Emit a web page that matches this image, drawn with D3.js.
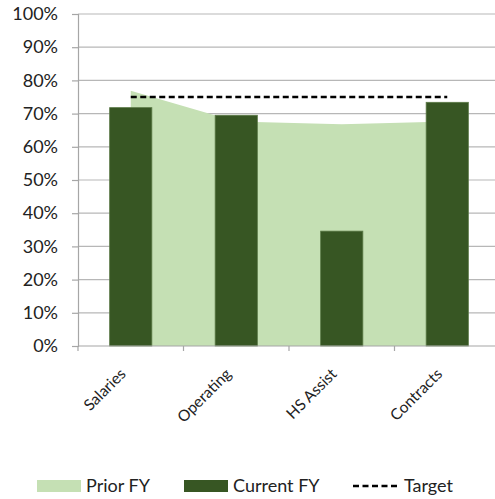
<!DOCTYPE html>
<html>
<head>
<meta charset="utf-8">
<script src="https://cdn.jsdelivr.net/npm/d3@7"></script>
<style>
  body { margin: 0; background: #fff; }
  svg { display: block; font-family: Lato, "Open Sans", sans-serif; }
</style>
</head>
<body>
<svg id="chart" width="495" height="499"></svg>
<script>
// chart data
const categories = ["Salaries", "Operating", "HS Assist", "Contracts"];
const priorFY = [76.9, 67.6, 66.8, 67.6];
const currentFY = [71.8, 69.5, 34.6, 73.4];
const target = [75, 75, 75, 75];
const yTicks = [0, 10, 20, 30, 40, 50, 60, 70, 80, 90, 100];

const lightGreen = "#c5e0b4";
const darkGreen = "#375623";

const svg = d3.select("#chart");

const plotLeft = 78, plotRight = 500, plotTop = 14, plotBottom = 346;

const x = d3.scaleBand()
    .domain(categories)
    .range([plotLeft, plotRight])
    .padding(0);

const y = d3.scaleLinear()
    .domain([0, 100])
    .range([plotBottom, plotTop]);

const center = d => x(d) + x.bandwidth() / 2;

// gridlines
svg.append("g")
    .selectAll("line")
    .data(yTicks.slice(1))
    .join("line")
    .attr("x1", plotLeft)
    .attr("x2", plotRight)
    .attr("y1", d => y(d))
    .attr("y2", d => y(d))
    .attr("stroke", "#b7b7b7")
    .attr("stroke-width", 1.2);

// prior FY area
const area = d3.area()
    .x((d, i) => center(categories[i]))
    .y0(y(0))
    .y1(d => y(d));

svg.append("path")
    .datum(priorFY)
    .attr("fill", lightGreen)
    .attr("d", area);

// current FY bars
const barW = x.bandwidth() * 0.4;
svg.append("g")
    .selectAll("rect")
    .data(currentFY)
    .join("rect")
    .attr("x", (d, i) => center(categories[i]) - barW / 2)
    .attr("width", barW)
    .attr("y", d => y(d))
    .attr("height", d => y(0) - y(d))
    .attr("fill", darkGreen)
    .attr("stroke", "#5b7a47")
    .attr("stroke-width", 0.8);

// target line
const line = d3.line()
    .x((d, i) => center(categories[i]))
    .y(d => y(d));

svg.append("path")
    .datum(target)
    .attr("fill", "none")
    .attr("stroke", "#000")
    .attr("stroke-width", 2.5)
    .attr("stroke-dasharray", "6,3.5")
    .attr("d", line);

// y axis
const yAxis = svg.append("g")
    .attr("transform", `translate(${plotLeft},0)`)
    .call(d3.axisLeft(y).tickValues(yTicks).tickFormat(d => d + "%").tickSize(6).tickPadding(14));
yAxis.select(".domain").attr("stroke", "#a6a6a6").attr("stroke-width", 1.2);
yAxis.selectAll(".tick line").attr("stroke", "#a6a6a6").attr("stroke-width", 1.2);
yAxis.selectAll("text")
    .attr("font-size", 18)
    .attr("font-family", "Lato, sans-serif")
    .attr("fill", "#222");

// x axis
const xAxis = svg.append("g")
    .attr("transform", `translate(0,${plotBottom})`);
xAxis.append("line")
    .attr("x1", plotLeft).attr("x2", plotRight)
    .attr("stroke", "#a6a6a6").attr("stroke-width", 1.2);
xAxis.selectAll(".xt")
    .data(categories)
    .join("line")
    .attr("class", "xt")
    .attr("x1", d => x(d)).attr("x2", d => x(d))
    .attr("y1", 0).attr("y2", 5)
    .attr("stroke", "#a6a6a6").attr("stroke-width", 1.2);
xAxis.selectAll("text")
    .data(categories)
    .join("text")
    .attr("transform", d => `translate(${center(d) - 4},29) rotate(-45)`)
    .attr("text-anchor", "end")
    .attr("font-size", 15.5)
    .attr("fill", "#222")
    .text(d => d);

// legend
const legend = svg.append("g").attr("font-size", 18).attr("fill", "#222");
const legendItems = [
    { name: "Prior FY", type: "rect", color: lightGreen, x: 37 },
    { name: "Current FY", type: "rect", color: darkGreen, x: 184 },
    { name: "Target", type: "line", color: "#000", x: 353 }
];
legendItems.forEach(item => {
    if (item.type === "rect") {
        legend.append("rect")
            .attr("x", item.x).attr("y", 480)
            .attr("width", 44).attr("height", 12)
            .attr("fill", item.color);
    } else {
        legend.append("line")
            .attr("x1", item.x).attr("x2", item.x + 45)
            .attr("y1", 486).attr("y2", 486)
            .attr("stroke", item.color)
            .attr("stroke-width", 2.5)
            .attr("stroke-dasharray", "6,3.5");
    }
    legend.append("text")
        .attr("x", item.x + (item.type === "rect" ? 49 : 51))
        .attr("y", 492)
        .text(item.name);
});
</script>
</body>
</html>
